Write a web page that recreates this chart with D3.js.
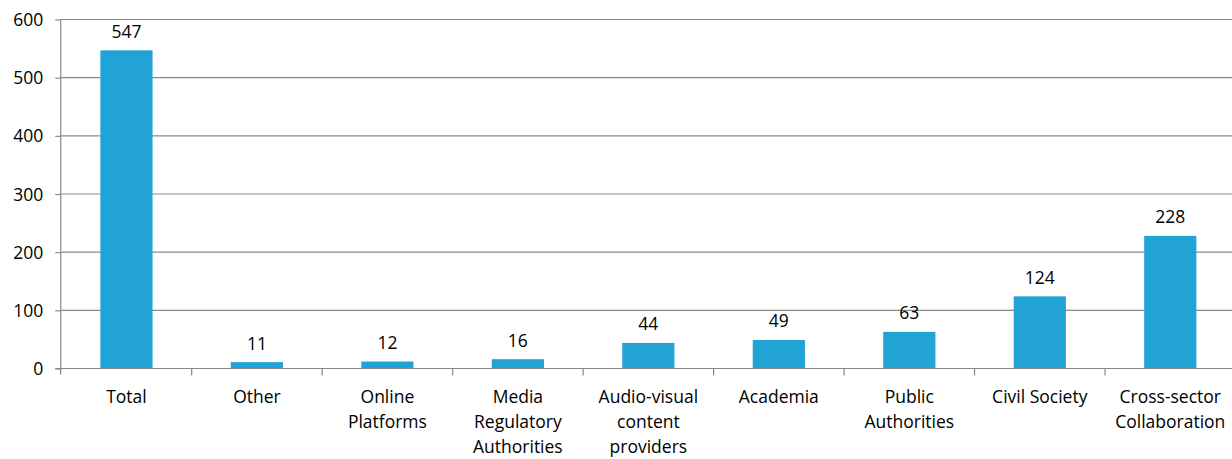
<!DOCTYPE html>
<html><head><meta charset="utf-8">
<script src="https://cdn.jsdelivr.net/npm/d3@7"></script>
<style>body{margin:0;background:#fff;}svg{display:block;}text{font-family:"Open Sans",sans-serif;fill:#000;}</style>
</head><body><svg id="c" width="1232" height="459"></svg>
<script>
const categories = [["Total"],["Other"],["Online","Platforms"],["Media","Regulatory","Authorities"],["Audio-visual","content","providers"],["Academia"],["Public","Authorities"],["Civil Society"],["Cross-sector","Collaboration"]];
const values = [547, 11, 12, 16, 44, 49, 63, 124, 228];
const yTicks = [0, 100, 200, 300, 400, 500, 600];

(function () {
const svg = d3.select("#c");
const mLeft = 61.2, mRight = 1235.5, mTop = 19.5, mBottom = 368.5;
const fs = 17.5;
const x = d3.scaleBand().domain(d3.range(categories.length)).range([mLeft, mRight]).paddingInner(0.6).paddingOuter(0.3);
const y = d3.scaleLinear().domain([0, 600]).range([mBottom, mTop]);
const grid = "#898989";

svg.append("g").selectAll("line").data(yTicks.filter(d => d > 0)).join("line")
  .attr("x1", mLeft).attr("x2", 1232).attr("y1", d => y(d)).attr("y2", d => y(d))
  .attr("stroke", grid).attr("stroke-width", 1.2);

svg.append("g").selectAll("rect").data(values).join("rect")
  .attr("x", (d, i) => x(i)).attr("width", x.bandwidth())
  .attr("y", d => y(d)).attr("height", d => y(0) - y(d))
  .attr("fill", "#22a3d6");

svg.append("g").selectAll("text").data(values).join("text")
  .attr("x", (d, i) => x(i) + x.bandwidth() / 2).attr("y", d => y(d) - 12.5)
  .attr("text-anchor", "middle").attr("font-size", fs).text(d => d);

const yAxis = svg.append("g").attr("transform", `translate(${mLeft},0)`)
  .call(d3.axisLeft(y).tickValues(yTicks).tickSize(6).tickPadding(12));
yAxis.select(".domain").attr("stroke", grid).attr("stroke-width", 1.2).attr("d", `M-0.5,${mBottom+6}V${mTop}`);
yAxis.selectAll(".tick line").attr("stroke", grid).attr("stroke-width", 1.2);
yAxis.selectAll(".tick text").attr("font-size", fs).attr("font-family", "Open Sans").attr("fill", "#000").attr("dy", "0.35em");

const xb = d3.scaleLinear().domain([0, categories.length]).range([mLeft, mRight]);
svg.append("line").attr("x1", mLeft - 6).attr("x2", 1232).attr("y1", mBottom).attr("y2", mBottom).attr("stroke", grid).attr("stroke-width", 1.2);
svg.append("g").selectAll("line").data(d3.range(1, categories.length)).join("line")
  .attr("x1", d => xb(d)).attr("x2", d => xb(d)).attr("y1", mBottom).attr("y2", mBottom + 7).attr("stroke", grid).attr("stroke-width", 1.2);

const lbl = svg.append("g").selectAll("text").data(categories).join("text")
  .attr("text-anchor", "middle").attr("font-size", fs)
  .attr("x", (d, i) => x(i) + x.bandwidth() / 2).attr("y", 403);
lbl.selectAll("tspan").data(d => d).join("tspan")
  .attr("x", function () { return d3.select(this.parentNode).attr("x"); })
  .attr("dy", (d, j) => j === 0 ? 0 : 25).text(d => d);
})();
</script></body></html>
